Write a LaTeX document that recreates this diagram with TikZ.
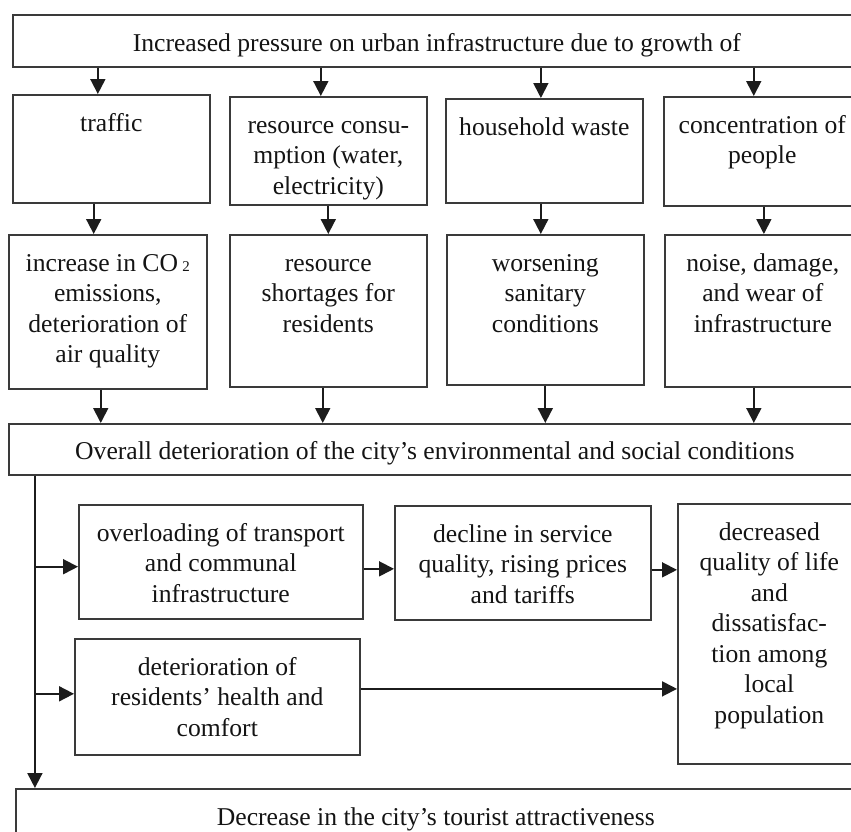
\documentclass[tikz,border=0pt]{standalone}
\usepackage{fontspec}
\setmainfont{Liberation Serif}
\usepackage{tikz}
\usetikzlibrary{positioning,arrows.meta,calc}
\definecolor{FLWline}{HTML}{3A3A3A}
\definecolor{FLWarrow}{HTML}{1C1C1C}
\definecolor{FLWtext}{HTML}{141414}
\newdimen\pxu \pxu=0.468pt
\newdimen\padx \padx=2pt
\newdimen\pady \pady=7pt
\tikzset{
  stagebox/.style 2 args={draw=FLWline, line width=0.75pt, fill=white, inner sep=0pt, anchor=north west,
    minimum width=#1*\pxu, minimum height=#2*\pxu, text=FLWtext, font=\fontsize{12}{14.3}\selectfont,
    execute at begin node={\begin{minipage}[t][\dimexpr#2\pxu-2\pady\relax][t]{\dimexpr#1\pxu-2\padx\relax}\centering\strut},
    execute at end node={\end{minipage}}},
  flowarr/.style={-{Triangle[length=7pt,width=7pt]}, line width=0.85pt, draw=FLWarrow}
}
\begin{document}
\begin{tikzpicture}[x=0.468pt, y=-0.468pt]
  \clip (0,0) rectangle (851,832);
  \fill[white] (0,0) rectangle (851,832);
  % pressure and its sources
  \node[stagebox={848}{52}] (top) at (12,14) {Increased pressure on urban infrastructure due to growth of};
  \node[stagebox={197}{108}] (traffic) at (12,94) {traffic};
  \node[stagebox={197}{108}] (resc) at (229,96) {resource consu-\\mption (water,\\electricity)};
  \node[stagebox={197}{104}] (waste) at (445,98) {household waste};
  \node[stagebox={197}{109}] (people) at (663,96) {concentration of\\people};
  % direct effects
  \node[stagebox={198}{154}] (co2) at (8,234) {increase in CO\,{\scriptsize 2}\\emissions,\\deterioration of\\air quality};
  \node[stagebox={197}{152}] (short) at (229,234) {resource\\shortages for\\residents};
  \node[stagebox={197}{150}] (sanit) at (446,234) {worsening\\sanitary\\conditions};
  \node[stagebox={196}{152}] (noise) at (664,234) {noise, damage,\\and wear of\\infrastructure};
  \node[stagebox={852}{51}] (overall) at (8,423) {Overall deterioration of the city’s environmental and social conditions};
  % consequences
  \node[stagebox={284}{114}] (overload) at (78,504) {overloading of transport\\and communal\\infrastructure};
  \node[stagebox={256}{114}] (decline) at (394,505) {decline in service\\quality, rising prices\\and tariffs};
  \node[stagebox={183}{260}] (lifeq) at (677,503) {decreased\\quality of life\\and\\dissatisfac-\\tion among\\local\\population};
  \node[stagebox={285}{116}] (health) at (74,638) {deterioration of\\residents’ health and\\comfort};
  \node[stagebox={840}{70}] (final) at (15,788) {Decrease in the city’s tourist attractiveness};

  \foreach \b/\s in {traffic/-6.3pt, resc/-3.5pt, waste/-1.6pt, people/-4pt}
    \draw[flowarr] ([xshift=\s]\b.north |- top.south) -- ([xshift=\s]\b.north);
  \foreach \a/\b/\s in {traffic/co2/-6.6pt, resc/short/0pt, waste/sanit/-2.1pt, people/noise/0.5pt}
    \draw[flowarr] ([xshift=\s]\b.north |- \a.south) -- ([xshift=\s]\b.north);
  \foreach \b/\s in {co2/-3.3pt, short/-2.6pt, sanit/0pt, noise/-4.2pt}
    \draw[flowarr] ([xshift=\s]\b.south) -- ([xshift=\s]\b.south |- overall.north);

  \coordinate (spine) at ([xshift=12.6pt]overall.south west);
  \draw[flowarr] (spine) -- (spine |- final.north);
  \draw[flowarr] ([yshift=-2.3pt]overload.west -| spine) -- ([yshift=-2.3pt]overload.west);
  \draw[flowarr] ([yshift=1.4pt]health.west -| spine) -- ([yshift=1.4pt]health.west);
  \draw[flowarr] ([yshift=-3.3pt]overload.east) -- ([yshift=-3.3pt]overload.east -| decline.west);
  \draw[flowarr] ([yshift=-3.3pt]decline.east) -- ([yshift=-3.3pt]decline.east -| lifeq.west);
  \draw[flowarr] ([yshift=3.7pt]health.east) -- ([yshift=3.7pt]health.east -| lifeq.west);
\end{tikzpicture}
\end{document}
